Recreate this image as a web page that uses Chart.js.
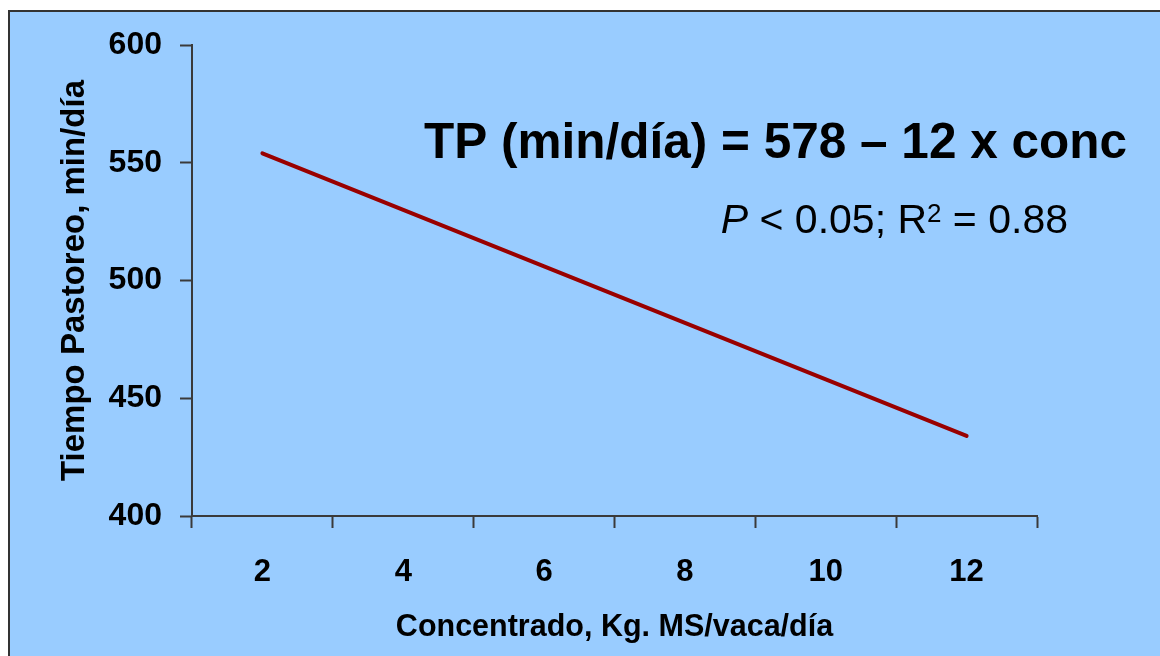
<!DOCTYPE html>
<html>
<head>
<meta charset="utf-8">
<script src="https://cdn.jsdelivr.net/npm/chart.js@4/dist/chart.umd.min.js"></script>
<style>
  html, body { margin: 0; padding: 0; background: #ffffff; }
  #wrap { position: absolute; left: 0; top: 0; width: 1160px; height: 656px; }
</style>
</head>
<body>
<div id="wrap"><canvas id="c" width="1160" height="656"></canvas></div>
<script>
// ---- data ----
const categories = ['2', '4', '6', '8', '10', '12'];
const tiempoPastoreo = [554, 530, 506, 482, 458, 434];
const yTickValues = [400, 450, 500, 550, 600];
const xTitle = 'Concentrado, Kg. MS/vaca/día';
const yTitle = 'Tiempo Pastoreo, min/día';
const equationText = 'TP (min/día) = 578 – 12 x conc';
const statP = 'P';
const statRest1 = ' < 0.05; R';
const statSup = '2';
const statRest2 = ' = 0.88';

const FONT = "'Liberation Sans', Arial, Helvetica, sans-serif";

const backgroundPlugin = {
  id: 'bgBox',
  beforeDraw(chart) {
    const ctx = chart.ctx;
    ctx.save();
    ctx.fillStyle = '#ffffff';
    ctx.fillRect(0, 0, chart.width, chart.height);
    ctx.fillStyle = '#99ccff';
    ctx.fillRect(9, 11, chart.width + 20, chart.height + 20);
    ctx.strokeStyle = '#333333';
    ctx.lineWidth = 2;
    ctx.strokeRect(9, 11, chart.width + 20, chart.height + 20);
    ctx.restore();
  }
};

const annotationPlugin = {
  id: 'eqText',
  afterDraw(chart) {
    const ctx = chart.ctx;
    ctx.save();
    ctx.fillStyle = '#000000';
    ctx.textBaseline = 'alphabetic';
    ctx.textAlign = 'left';

    // equation, right end at x = 1127
    ctx.font = 'bold 49.5px ' + FONT;
    const eqW = ctx.measureText(equationText).width;
    ctx.fillText(equationText, 1127 - eqW, 158);

    // stats line, right end at x = 1068
    const big = '41px ' + FONT;
    const bigIt = 'italic 41px ' + FONT;
    const sup = '26px ' + FONT;
    ctx.font = bigIt; const w1 = ctx.measureText(statP).width;
    ctx.font = big;   const w2 = ctx.measureText(statRest1).width;
    ctx.font = sup;   const w3 = ctx.measureText(statSup).width;
    ctx.font = big;   const w4 = ctx.measureText(statRest2).width;
    let x = 1068 - (w1 + w2 + w3 + w4);
    const y = 233;
    ctx.font = bigIt; ctx.fillText(statP, x, y); x += w1;
    ctx.font = big;   ctx.fillText(statRest1, x, y); x += w2;
    ctx.font = sup;   ctx.fillText(statSup, x, y - 11); x += w3;
    ctx.font = big;   ctx.fillText(statRest2, x, y);
    ctx.restore();
  }
};

new Chart(document.getElementById('c'), {
  type: 'line',
  data: {
    labels: categories,
    datasets: [{
      data: tiempoPastoreo,
      borderColor: '#990000',
      borderWidth: 4,
      borderCapStyle: 'round',
      pointRadius: 0,
      pointHoverRadius: 0,
      tension: 0,
      fill: false
    }]
  },
  options: {
    responsive: false,
    animation: false,
    devicePixelRatio: 1,
    layout: { padding: { left: 10, top: 45, right: 123, bottom: 0 } },
    plugins: {
      legend: { display: false },
      tooltip: { enabled: false },
      title: { display: false }
    },
    scales: {
      x: {
        type: 'category',
        offset: true,
        grid: {
          offset: true,
          drawOnChartArea: false,
          drawTicks: true,
          tickLength: 12,
          tickWidth: 2,
          color: '#3a3a3a'
        },
        border: { display: true, color: '#3a3a3a', width: 2 },
        ticks: {
          color: '#000000',
          padding: 26,
          maxRotation: 0,
          font: { family: FONT, size: 31, weight: 'bold' }
        },
        title: {
          display: true,
          text: xTitle,
          color: '#000000',
          font: { family: FONT, size: 30.5, weight: 'bold' },
          padding: { top: 0, bottom: 10 }
        },
        afterFit(scale) { scale.height = 140; }
      },
      y: {
        min: 400,
        max: 600,
        afterBuildTicks(scale) { scale.ticks = yTickValues.map(v => ({ value: v })); },
        grid: {
          drawOnChartArea: false,
          drawTicks: true,
          tickLength: 12,
          tickWidth: 2,
          color: '#3a3a3a'
        },
        border: { display: true, color: '#3a3a3a', width: 2 },
        ticks: {
          color: '#000000',
          padding: 18,
          font: { family: FONT, size: 32, weight: 'bold' }
        },
        title: {
          display: true,
          text: yTitle,
          color: '#000000',
          font: { family: FONT, size: 33, weight: 'bold' },
          padding: { top: 45, bottom: 0 }
        },
        afterFit(scale) { scale.width = 182; }
      }
    }
  },
  plugins: [backgroundPlugin, annotationPlugin]
});
</script>
</body>
</html>
